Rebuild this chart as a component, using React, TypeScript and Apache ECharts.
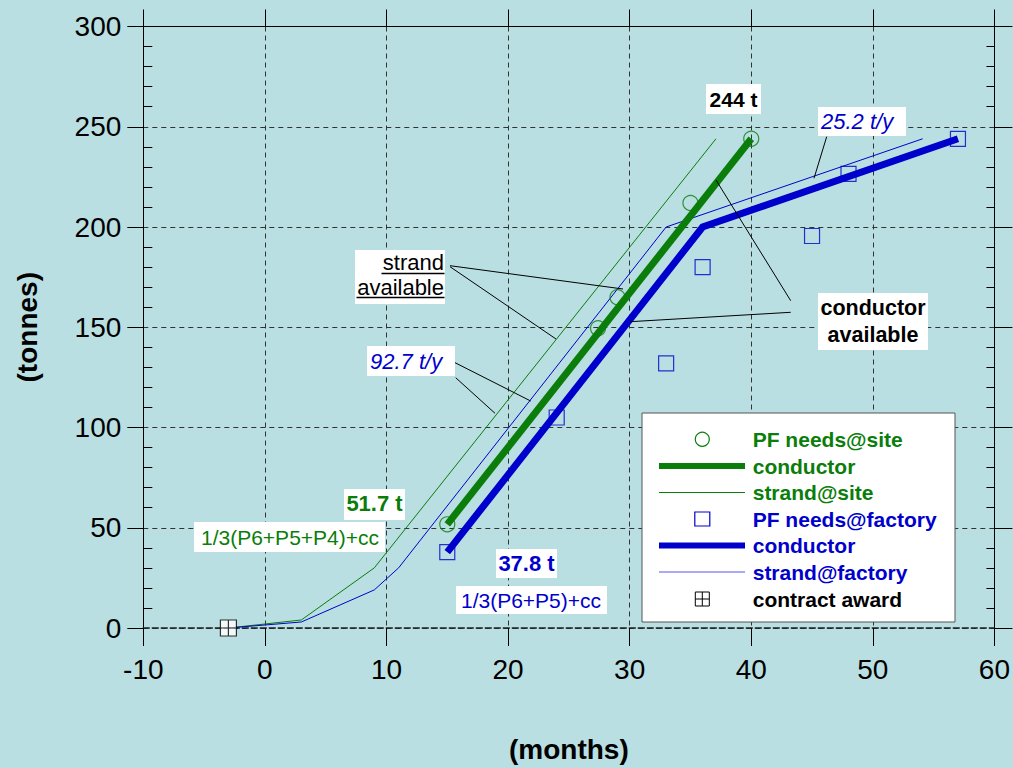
import React, { useEffect, useRef } from "react";
import * as echarts from "echarts";

// ---------- data ----------
const strandSiteMonths = [-3, 3, 9, 37.1];
const strandSiteTonnes = [0, 4, 30, 244];

const strandFactoryMonths = [-3, 3, 9, 11, 33, 54.1];
const strandFactoryTonnes = [0, 3, 19, 30, 200, 244];

const conductorSiteMonths = [15, 40];
const conductorSiteTonnes = [51.7, 244];

const conductorFactoryMonths = [15, 36, 57];
const conductorFactoryTonnes = [37.8, 200, 244];

const needsSiteMonths = [15, 27.4, 29, 35, 40];
const needsSiteTonnes = [51.7, 149.5, 165, 212, 244];

const needsFactoryMonths = [15, 24, 33, 36, 45, 48, 57];
const needsFactoryTonnes = [37.8, 105, 132, 180, 195.5, 226.5, 244];

const contractAwardMonths = [-3];
const contractAwardTonnes = [0];

const legendLabels = [
  "PF needs@site",
  "conductor",
  "strand@site",
  "PF needs@factory",
  "conductor",
  "strand@factory",
  "contract award",
];

// ---------- style ----------
const GREEN = "#0a7d0a";
const BLUE = "#0000cc";
const BG = "#b9dfe2";
const FF = '"Liberation Sans", Arial, Helvetica, sans-serif';
const AWARD_PATH = "path://M0,0L10,0L10,10L0,10Z M5,0L5,10 M0,5L10,5";

const zip = (xs: number[], ys: number[]) => xs.map((x, i) => [x, ys[i]]);

function buildGraphic() {
  const els: any[] = [];
  const box = (x: number, y: number, w: number, h: number) =>
    els.push({ type: "rect", z: 100, shape: { x, y, width: w, height: h }, style: { fill: "#fff" } });
  const txt = (x: number, y: number, text: string, font: string, fill: string, align = "center") =>
    els.push({
      type: "text", z: 101, x, y,
      style: { text, font, fill, align, textAlign: align, verticalAlign: "middle", textVerticalAlign: "middle" },
    });
  const ln = (x1: number, y1: number, x2: number, y2: number, stroke = "#000", w = 1) =>
    els.push({ type: "line", z: 99, shape: { x1, y1, x2, y2 }, style: { stroke, lineWidth: w } });

  // 244 t
  box(706, 84, 55, 30);
  txt(733.5, 99, "244 t", `bold 21px ${FF}`, "#000");
  // 25.2 t/y
  box(818, 107, 88, 29);
  txt(821, 121.5, "25.2 t/y", `italic 22px ${FF}`, BLUE, "left");
  ln(826.7, 136.7, 814, 178.3);
  // strand available
  ln(450, 265.7, 623, 289);
  ln(450, 266.7, 556, 339);
  box(355, 250, 90, 54);
  txt(444, 262, "strand", `22px ${FF}`, "#000", "right");
  txt(444, 287, "available", `22px ${FF}`, "#000", "right");
  els.push({ type: "line", z: 102, shape: { x1: 381.5, y1: 273.5, x2: 444.5, y2: 273.5 }, style: { stroke: "#000", lineWidth: 1.5 } });
  els.push({ type: "line", z: 102, shape: { x1: 356.5, y1: 297.5, x2: 444.5, y2: 297.5 }, style: { stroke: "#000", lineWidth: 1.5 } });
  // conductor available
  ln(790.7, 300.7, 716, 180);
  ln(790.7, 312.3, 630, 321.7);
  box(818, 293, 110, 57);
  txt(873, 308, "conductor", `bold 21.5px ${FF}`, "#000");
  txt(873, 335, "available", `bold 21.5px ${FF}`, "#000");
  // 92.7 t/y
  ln(451.7, 361, 530.7, 401);
  ln(455.7, 377.7, 495, 413.3);
  box(367, 346, 88, 30);
  txt(370, 361, "92.7 t/y", `italic 22px ${FF}`, BLUE, "left");
  // 51.7 t
  box(344, 489, 61, 31);
  txt(374.5, 503, "51.7 t", `bold 22px ${FF}`, GREEN);
  box(194, 522, 191, 30);
  txt(290, 537, "1/3(P6+P5+P4)+cc", `21px ${FF}`, GREEN);
  // 37.8 t
  box(496, 549, 61, 29);
  txt(526.5, 563.5, "37.8 t", `bold 22px ${FF}`, BLUE);
  box(456, 586, 151, 28);
  txt(531, 600, "1/3(P6+P5)+cc", `21px ${FF}`, BLUE);

  // legend
  els.push({ type: "rect", z: 100, shape: { x: 642, y: 413, width: 313, height: 209 }, style: { fill: "#fff", stroke: "#555", lineWidth: 1 } });
  const rowY = [439.3, 466, 492.5, 519, 545.5, 572, 599];
  const colors = [GREEN, GREEN, GREEN, BLUE, BLUE, BLUE, "#000"];
  const sx = 702.3;
  els.push({ type: "circle", z: 101, shape: { cx: sx, cy: rowY[0], r: 7 }, style: { fill: "none", stroke: GREEN, lineWidth: 1.2 } });
  els.push({ type: "line", z: 101, shape: { x1: 659, y1: rowY[1], x2: 745, y2: rowY[1] }, style: { stroke: GREEN, lineWidth: 6 } });
  els.push({ type: "line", z: 101, shape: { x1: 659, y1: rowY[2], x2: 745, y2: rowY[2] }, style: { stroke: GREEN, lineWidth: 1 } });
  els.push({ type: "rect", z: 101, shape: { x: sx - 7.5, y: rowY[3] - 7, width: 15, height: 14 }, style: { fill: "none", stroke: BLUE, lineWidth: 1.2 } });
  els.push({ type: "line", z: 101, shape: { x1: 659, y1: rowY[4], x2: 745, y2: rowY[4] }, style: { stroke: BLUE, lineWidth: 6 } });
  els.push({ type: "line", z: 101, shape: { x1: 659, y1: rowY[5], x2: 745, y2: rowY[5] }, style: { stroke: "#5555ee", lineWidth: 1 } });
  els.push({ type: "rect", z: 101, shape: { x: sx - 7, y: rowY[6] - 7, width: 14, height: 14 }, style: { fill: "#fff", stroke: "#000", lineWidth: 1 } });
  els.push({ type: "line", z: 102, shape: { x1: sx, y1: rowY[6] - 7, x2: sx, y2: rowY[6] + 7 }, style: { stroke: "#000", lineWidth: 1 } });
  els.push({ type: "line", z: 102, shape: { x1: sx - 7, y1: rowY[6], x2: sx + 7, y2: rowY[6] }, style: { stroke: "#000", lineWidth: 1 } });
  legendLabels.forEach((t, i) => txt(752.7, rowY[i], t, `bold 21px ${FF}`, colors[i], "left"));
  return els;
}

export default function App() {
  const ref = useRef<HTMLDivElement>(null);
  useEffect(() => {
    if (!ref.current) return;
    const chart = echarts.init(ref.current, undefined, { renderer: "svg" });
    const labelStyle = { fontSize: 28, color: "#000", fontFamily: FF };
    const dash = { color: "#333", type: [5, 4] as any, width: 1 };
    const option: any = {
      animation: false,
      backgroundColor: BG,
      grid: { left: 143.3, right: 17.3, top: 26.5, bottom: 136, containLabel: false },
      xAxis: [
        {
          type: "value", min: -10, max: 60, interval: 10, position: "bottom",
          axisLine: { show: true, onZero: false, lineStyle: { color: "#222", type: [6, 3], width: 1.5 } },
          axisTick: { show: true, length: 18, lineStyle: { color: "#000" } },
          axisLabel: { ...labelStyle, margin: 27 },
          splitLine: { show: true, lineStyle: dash },
          name: "(months)", nameLocation: "middle", nameGap: 107,
          nameTextStyle: { fontSize: 28, fontWeight: "bold", color: "#000", fontFamily: FF },
        },
        {
          type: "value", min: -10, max: 60, interval: 10, position: "top",
          axisLine: { show: true, onZero: false, lineStyle: { color: "#000" } },
          axisTick: { show: true, length: 17, lineStyle: { color: "#000" } },
          axisLabel: { show: false }, splitLine: { show: false },
        },
      ],
      yAxis: [
        {
          type: "value", min: 0, max: 300, interval: 50, position: "left",
          axisLine: { show: true, onZero: false, lineStyle: { color: "#000" } },
          axisTick: { show: true, length: 16, lineStyle: { color: "#000" } },
          axisLabel: { ...labelStyle, margin: 22 },
          splitLine: { show: true, lineStyle: dash },
          name: "(tonnes)", nameLocation: "middle", nameGap: 102, nameRotate: 90,
          nameTextStyle: { fontSize: 28, fontWeight: "bold", color: "#000", fontFamily: FF },
        },
        {
          type: "value", min: 0, max: 300, interval: 50, position: "left",
          axisLine: { show: false, onZero: false },
          axisTick: { show: false, inside: true },
          minorTick: { show: true, splitNumber: 5, length: 9, lineStyle: { color: "#000" } },
          axisLabel: { show: false }, splitLine: { show: false },
        },
        {
          type: "value", min: 0, max: 300, interval: 50, position: "right",
          axisLine: { show: true, onZero: false, lineStyle: { color: "#000" } },
          axisTick: { show: true, length: 18, lineStyle: { color: "#000" } },
          axisLabel: { show: false }, splitLine: { show: false },
        },
        {
          type: "value", min: 0, max: 300, interval: 50, position: "right",
          axisLine: { show: false, onZero: false },
          axisTick: { show: false, inside: true },
          minorTick: { show: true, splitNumber: 5, length: 8, lineStyle: { color: "#000" } },
          axisLabel: { show: false }, splitLine: { show: false },
        },
      ],
      series: [
        { name: "strand@site", type: "line", data: zip(strandSiteMonths, strandSiteTonnes), showSymbol: false, symbol: "none", lineStyle: { color: GREEN, width: 1 }, z: 3 },
        { name: "strand@factory", type: "line", data: zip(strandFactoryMonths, strandFactoryTonnes), showSymbol: false, symbol: "none", lineStyle: { color: BLUE, width: 1 }, z: 3 },
        { name: "conductor site", type: "line", data: zip(conductorSiteMonths, conductorSiteTonnes), showSymbol: false, symbol: "none", lineStyle: { color: GREEN, width: 7 }, z: 4 },
        { name: "conductor factory", type: "line", data: zip(conductorFactoryMonths, conductorFactoryTonnes), showSymbol: false, symbol: "none", lineStyle: { color: BLUE, width: 7, join: "miter" }, z: 4 },
        { name: "PF needs@site", type: "scatter", data: zip(needsSiteMonths, needsSiteTonnes), symbol: "circle", symbolSize: 15, itemStyle: { color: "rgba(0,0,0,0)", borderColor: GREEN, borderWidth: 1.2 }, z: 5 },
        { name: "PF needs@factory", type: "scatter", data: zip(needsFactoryMonths, needsFactoryTonnes), symbol: "rect", symbolSize: 15, itemStyle: { color: "rgba(0,0,0,0)", borderColor: BLUE, borderWidth: 1.2 }, z: 5 },
        { name: "contract award", type: "scatter", data: zip(contractAwardMonths, contractAwardTonnes), symbol: AWARD_PATH, symbolSize: 16, itemStyle: { color: "#fff", borderColor: "#000", borderWidth: 1.2 }, z: 6 },
      ],
      graphic: { elements: buildGraphic() },
    };
    chart.setOption(option);
    return () => chart.dispose();
  }, []);
  return <div ref={ref} style={{ position: "absolute", left: 0, top: 0, width: 1013, height: 768 }} />;
}
